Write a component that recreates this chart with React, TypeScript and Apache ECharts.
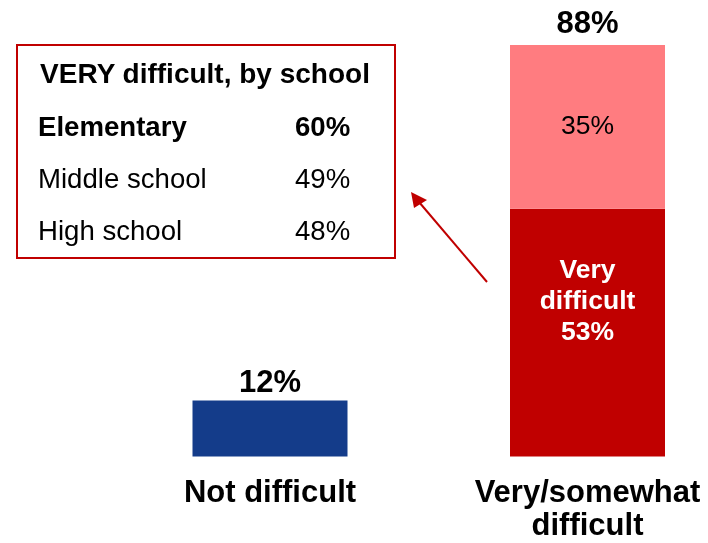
import React, { useEffect, useRef } from "react";
import * as echarts from "echarts";

const categories = ["Not difficult", "Very/somewhat\ndifficult"];
const baseValues = [12, 53];
const somewhatValues: (number | string)[] = ["-", 35];
const totals = [12, 88];
const baseColors = ["#143C8A", "#C00000"];
const somewhatColor = "#FF7C80";
const schoolNames = ["Elementary", "Middle school", "High school"];
const schoolValues = [60, 49, 48];
const boxTitle = "VERY difficult, by school";

const FONT = "Liberation Sans";
const totalLabelDistance = [3.5, 7];

export default function App() {
  const ref = useRef<HTMLDivElement>(null);
  useEffect(() => {
    if (!ref.current) return;
    const chart = echarts.init(ref.current, undefined, { renderer: "svg" });
    const rowY = [126, 178, 230];
    const graphics: any[] = [
      {
        type: "rect",
        shape: { x: 17, y: 45, width: 378, height: 213 },
        style: { fill: "none", stroke: "#C00000", lineWidth: 2 },
      },
      {
        type: "text",
        x: 205,
        y: 73,
        style: {
          text: boxTitle,
          fontFamily: FONT,
          fontWeight: "bold",
          fontSize: 28,
          fill: "#000",
          align: "center",
          verticalAlign: "middle",
        },
      },
    ];
    schoolNames.forEach((n, i) => {
      const weight = i === 0 ? "bold" : "normal";
      graphics.push({
        type: "text",
        x: 38,
        y: rowY[i],
        style: {
          text: n,
          fontFamily: FONT,
          fontWeight: weight,
          fontSize: 27.6,
          fill: "#000",
          align: "left",
          verticalAlign: "middle",
        },
      });
      graphics.push({
        type: "text",
        x: 295,
        y: rowY[i],
        style: {
          text: schoolValues[i] + "%",
          fontFamily: FONT,
          fontWeight: weight,
          fontSize: 27.6,
          fill: "#000",
          align: "left",
          verticalAlign: "middle",
        },
      });
    });
    graphics.push({
      type: "line",
      shape: { x1: 487, y1: 282, x2: 419, y2: 202 },
      style: { stroke: "#C00000", lineWidth: 2 },
    });
    graphics.push({
      type: "polygon",
      shape: { points: [[411, 192], [414, 208], [427, 200]] },
      style: { fill: "#C00000" },
    });

    chart.setOption({
      animation: false,
      textStyle: { fontFamily: FONT },
      grid: { left: 270, right: 120.5, top: 45, bottom: 86.5 },
      xAxis: {
        type: "category",
        data: categories,
        boundaryGap: false,
        axisLine: { show: false },
        axisTick: { show: false },
        splitLine: { show: false },
        axisLabel: {
          interval: 0,
          color: "#000",
          fontFamily: FONT,
          fontWeight: "bold",
          fontSize: 31,
          lineHeight: 32.5,
          margin: 19,
        },
      },
      yAxis: {
        type: "value",
        min: 0,
        max: 88,
        show: false,
        splitLine: { show: false },
      },
      series: [
        {
          type: "bar",
          stack: "total",
          barWidth: 155,
          clip: false,
          data: baseValues.map((v, i) => ({
            value: v,
            itemStyle: { color: baseColors[i] },
            label:
              i === 1
                ? {
                    show: true,
                    position: "inside",
                    offset: [0, -33],
                    formatter: "Very\ndifficult\n{c}%",
                    color: "#fff",
                    fontFamily: FONT,
                    fontWeight: "bold",
                    fontSize: 26.5,
                    lineHeight: 31,
                  }
                : { show: false },
          })),
        },
        {
          type: "bar",
          stack: "total",
          barWidth: 155,
          clip: false,
          itemStyle: { color: somewhatColor },
          label: {
            show: true,
            position: "inside",
            offset: [0, -2],
            formatter: "{c}%",
            color: "#000",
            fontFamily: FONT,
            fontSize: 26.5,
          },
          data: somewhatValues,
        },
        {
          type: "bar",
          stack: "total",
          barWidth: 155,
          clip: false,
          itemStyle: { color: "transparent" },
          label: {
            show: true,
            position: "top",
            formatter: (p: any) => totals[p.dataIndex] + "%",
            color: "#000",
            fontFamily: FONT,
            fontWeight: "bold",
            fontSize: 31,
          },
          data: totals.map((_, i) => ({
            value: 0,
            label: { distance: totalLabelDistance[i] },
          })),
        },
      ],
      graphic: graphics,
    });
    return () => chart.dispose();
  }, []);
  return (
    <div
      ref={ref}
      style={{ position: "fixed", left: 0, top: 0, width: 708, height: 543 }}
    />
  );
}
